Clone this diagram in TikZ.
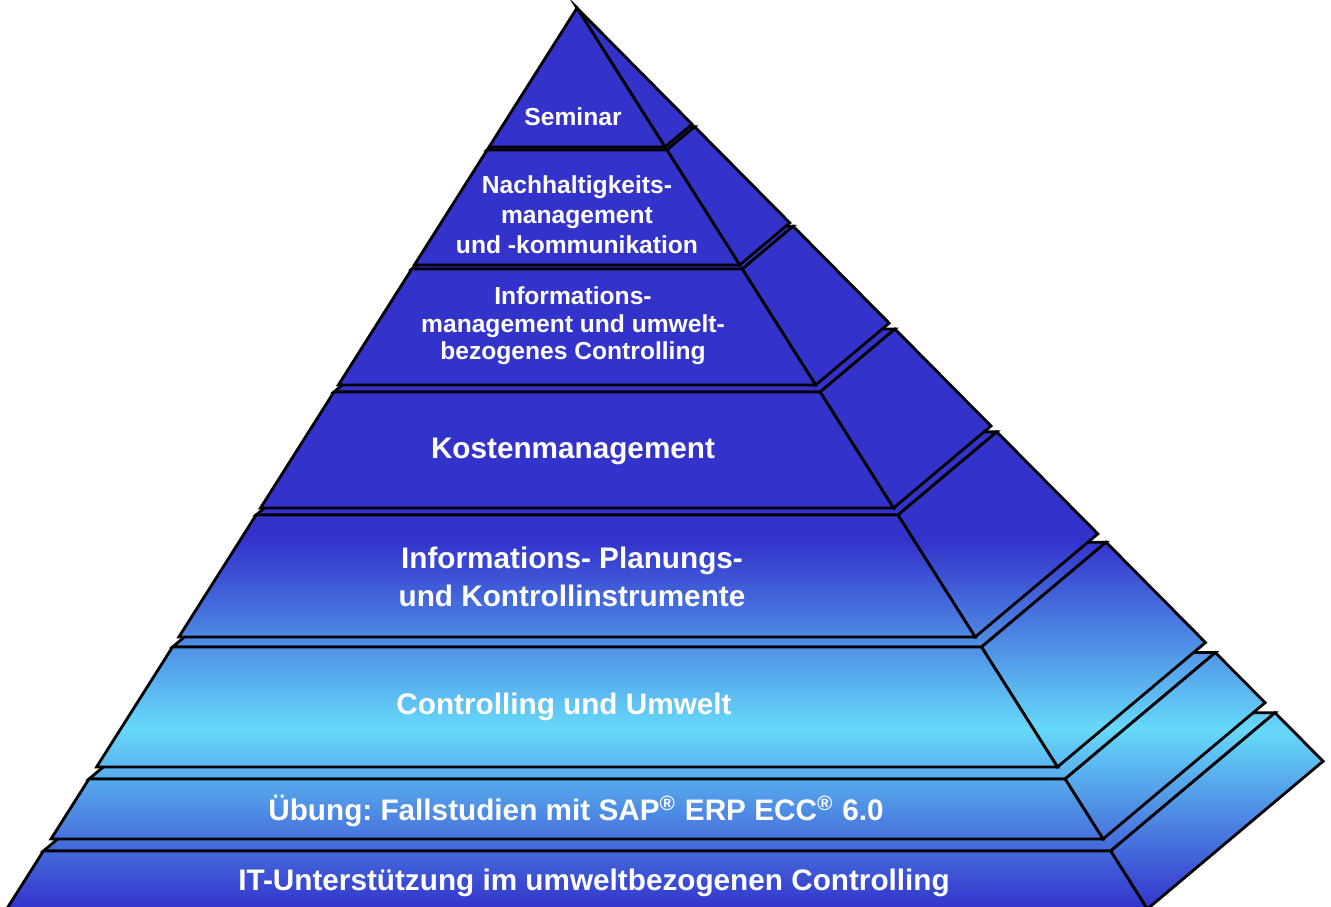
\documentclass[tikz,border=0pt]{standalone}
\usepackage{fontspec}
\setmainfont{Liberation Sans}
\usepackage{tikz}
\frenchspacing
\definecolor{pyrdark}{HTML}{3333CC}
\definecolor{pyrlight}{HTML}{66D9F9}
\pgfdeclareverticalshading{pyrshade}{100bp}{color(0bp)=(pyrdark); color(25bp)=(pyrdark); color(34.8bp)=(pyrlight); color(45.2bp)=(pyrdark); color(100bp)=(pyrdark)}
\begin{document}
\begin{tikzpicture}[x=0.01cm,y=-0.01cm,
face/.style={draw=black,line width=0.8pt,line join=miter,path picture={\shade[shading=pyrshade] (0,0) rectangle (1331,906);}},
big label/.style={text=white,align=center,inner sep=0pt,font=\bfseries\fontsize{8.45}{10.8}\selectfont},
small label/.style={text=white,align=center,inner sep=0pt,font=\bfseries\fontsize{7}{8.5}\selectfont}]
\useasboundingbox (0,0) rectangle (1331,906);
\clip (0,0) rectangle (1331,906);
\foreach \lay/\ytop/\ybot in {8/851/909,7/779/839,6/647/767,5/515/637,4/392/508,3/269/385,2/150/265,1/8/147}{
  \pgfmathsetmacro\htop{\ytop-8}
  \pgfmathsetmacro\hbot{\ybot-8}
  \coordinate (tl\lay) at ({577-0.633*\htop},\ytop);
  \coordinate (tr\lay) at ({577+0.633*\htop},\ytop);
  \coordinate (tbr\lay) at ({577+0.828*\htop},{\ytop-0.164*\htop});
  \coordinate (tbl\lay) at ({577-0.438*\htop},{\ytop-0.164*\htop});
  \coordinate (bl\lay) at ({577-0.633*\hbot},\ybot);
  \coordinate (br\lay) at ({577+0.633*\hbot},\ybot);
  \coordinate (bbr\lay) at ({577+0.828*\hbot},{\ybot-0.164*\hbot});
  \path[face] (tl\lay) -- (tr\lay) -- (tbr\lay) -- (tbl\lay) -- cycle;
  \path[face] (tr\lay) -- (tbr\lay) -- (bbr\lay) -- (br\lay) -- cycle;
  \path[face] (tl\lay) -- (tr\lay) -- (br\lay) -- (bl\lay) -- cycle;
}
\node[small label] (seminar) at (573,117) {Seminar};
\node[small label] (nachhaltig) at (577,215) {Nachhaltigkeits-\\management\\und -kommunikation};
\node[small label,font=\bfseries\fontsize{7}{7.8}\selectfont] (infomgmt) at (573,326) {Informations-\\management und umwelt-\\bezogenes Controlling};
\node[big label] (kosten) at (573,451) {Kostenmanagement};
\node[big label] (instrumente) at (572,577) {Informations- Planungs-\\und Kontrollinstrumente};
\node[big label] (umwelt) at (564,707) {Controlling und Umwelt};
\node[big label] (uebung) at (576,811) {Übung: Fallstudien mit SAP\textsuperscript{®} ERP ECC\textsuperscript{®} 6.0};
\node[big label] (itsupport) at (594,883) {IT-Unterstützung im umweltbezogenen Controlling};
\end{tikzpicture}
\end{document}
